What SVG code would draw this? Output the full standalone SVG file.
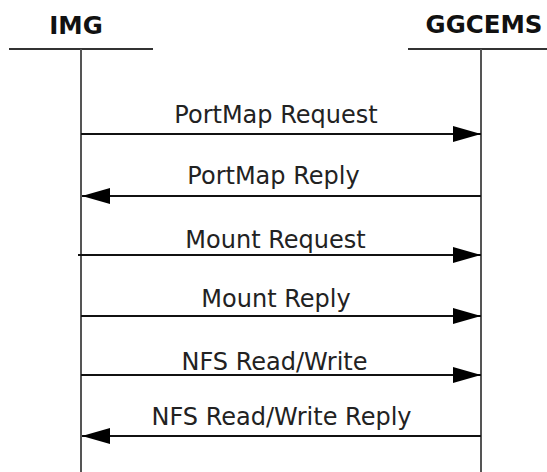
<svg xmlns="http://www.w3.org/2000/svg" width="547" height="472" viewBox="0 0 547 472">
<defs>
<style>
.hdr{font-family:"DejaVu Sans","Liberation Sans",sans-serif;font-weight:bold;font-size:24.5px;fill:#111;text-anchor:middle}
.lbl{font-family:"DejaVu Sans","Liberation Sans",sans-serif;font-size:24px;fill:#222;text-anchor:middle}
.hline{stroke:#333;stroke-width:2;fill:none}
.life{stroke:#555;stroke-width:2;fill:none}
.msg{stroke:#111;stroke-width:2;fill:none}
.head{fill:#000}
</style>
<marker id="arr" markerWidth="28" markerHeight="16" refX="28" refY="8" orient="auto" markerUnits="userSpaceOnUse">
<path d="M0,0 L28,8 L0,16 Z" class="head"/>
</marker>
</defs>
<rect width="547" height="472" fill="#fff"/>
<g id="IMG">
<text class="hdr" x="76" y="34">IMG</text>
<line class="hline" x1="9" y1="49" x2="153" y2="49"/>
<line class="life" x1="81" y1="49" x2="81" y2="472"/>
</g>
<g id="GGCEMS">
<text class="hdr" x="484" y="33">GGCEMS</text>
<line class="hline" x1="408" y1="49" x2="547" y2="49"/>
<line class="life" x1="481" y1="49" x2="481" y2="472"/>
</g>
<g id="connectors">
<line class="msg" x1="81" y1="134" x2="481" y2="134" marker-end="url(#arr)"/>
<line class="msg" x1="481" y1="196" x2="82" y2="196" marker-end="url(#arr)"/>
<line class="msg" x1="78" y1="255" x2="481" y2="255" marker-end="url(#arr)"/>
<line class="msg" x1="81" y1="316" x2="481" y2="316" marker-end="url(#arr)"/>
<line class="msg" x1="81" y1="375" x2="481" y2="375" marker-end="url(#arr)"/>
<line class="msg" x1="481" y1="436" x2="82" y2="436" marker-end="url(#arr)"/>
<text class="lbl" x="276" y="123">PortMap Request</text>
<text class="lbl" x="273.5" y="184">PortMap Reply</text>
<text class="lbl" x="275.5" y="248">Mount Request</text>
<text class="lbl" x="276" y="307">Mount Reply</text>
<text class="lbl" x="274.5" y="370">NFS Read/Write</text>
<text class="lbl" x="281.5" y="425">NFS Read/Write Reply</text>
</g>
</svg>
